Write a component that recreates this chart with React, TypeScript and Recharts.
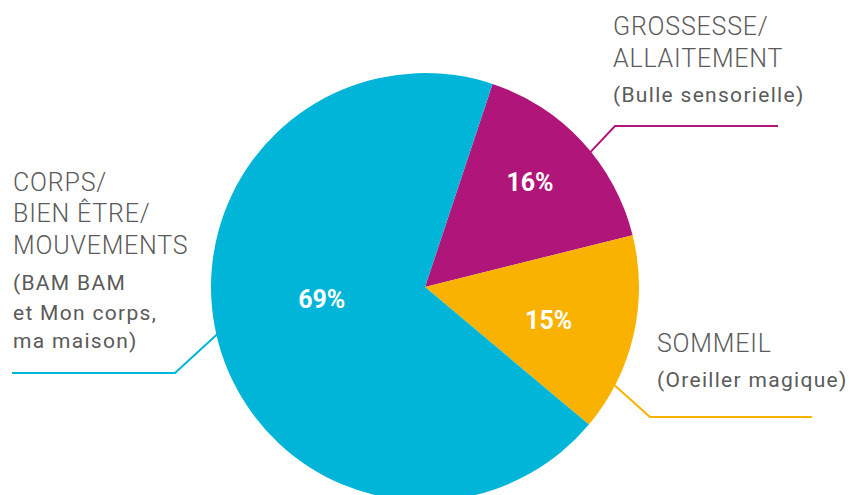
import { PieChart, Pie, Cell } from 'recharts';

const categories = ['GROSSESSE/ALLAITEMENT', 'SOMMEIL', 'CORPS/BIEN ÊTRE/MOUVEMENTS'];
const values = [16, 15, 69];
const titles = [
  ['GROSSESSE/', 'ALLAITEMENT'],
  ['SOMMEIL'],
  ['CORPS/', 'BIEN ÊTRE/', 'MOUVEMENTS'],
];
const subtitles = [
  ['(Bulle sensorielle)'],
  ['(Oreiller magique)'],
  ['(BAM BAM', 'et Mon corps,', 'ma maison)'],
];

const COLORS = ['#b0157a', '#f9b200', '#00b5d8'];
const TEXT = '#5a5a5a';
const FONT = 'Roboto, "Noto Sans", sans-serif';

// label placement, relative to pie centre
const LAYOUT = [
  { pctR: 148, pctDa: 2, lineAngle: 39, elbow: [190, -161], end: [353, -161], textX: 188, textY: [-252, -220], subY: [-185] },
  { pctR: 128, pctDa: -2, lineAngle: -27, elbow: [225, 130], end: [387, 130], textX: 232, textY: [65], subY: [100] },
  { pctR: 104, pctDa: -9, lineAngle: 192, elbow: [-250, 86], end: [-413, 86], textX: -412, textY: [-96, -65, -33], subY: [3, 33, 61] },
];

const RAD = Math.PI / 180;

function renderLabel(props: any) {
  const { cx, cy, midAngle, outerRadius, index, value } = props;
  const l = LAYOUT[index];
  const a = (midAngle + l.pctDa) * RAD;
  const px = cx + l.pctR * Math.cos(a);
  const py = cy - l.pctR * Math.sin(a);
  const la = l.lineAngle * RAD;
  const sx = cx + (outerRadius - 6) * Math.cos(la);
  const sy = cy - (outerRadius - 6) * Math.sin(la);
  const pts = `${sx},${sy} ${cx + l.elbow[0]},${cy + l.elbow[1]} ${cx + l.end[0]},${cy + l.end[1]}`;
  return (
    <g key={`lbl-${index}`}>
      <text x={px} y={py} fill="#fff" fontSize={25} fontWeight={700} textAnchor="middle" dominantBaseline="central" fontFamily={FONT}>
        {`${value}%`}
      </text>
      <polyline points={pts} fill="none" stroke={COLORS[index]} strokeWidth={2} />
      {titles[index].map((t, i) => (
        <text key={`t${i}`} x={cx + l.textX} y={cy + l.textY[i]} fill={TEXT} fontSize={25} fontFamily={FONT} fontWeight={300} letterSpacing={0.8}>
          {t}
        </text>
      ))}
      {subtitles[index].map((t, i) => (
        <text key={`s${i}`} x={cx + l.textX} y={cy + l.subY[i]} fill={TEXT} fontSize={21} fontFamily={FONT} fontWeight={400} letterSpacing={1.3}>
          {t}
        </text>
      ))}
    </g>
  );
}

export default function App() {
  const data = categories.map((name, i) => ({ name, value: values[i] }));
  return (
    <div style={{ position: 'absolute', left: 0, top: 0, width: 850, height: 495, background: '#fff' }}>
      <PieChart width={850} height={495} margin={{ top: 0, right: 0, bottom: 0, left: 0 }}>
        <Pie
          data={data}
          dataKey="value"
          cx={425}
          cy={287}
          innerRadius={0}
          outerRadius={214}
          startAngle={71.6}
          endAngle={-288.4}
          stroke="none"
          label={renderLabel}
          labelLine={false}
          isAnimationActive={false}
        >
          {data.map((_, i) => (
            <Cell key={i} fill={COLORS[i]} />
          ))}
        </Pie>
      </PieChart>
    </div>
  );
}
